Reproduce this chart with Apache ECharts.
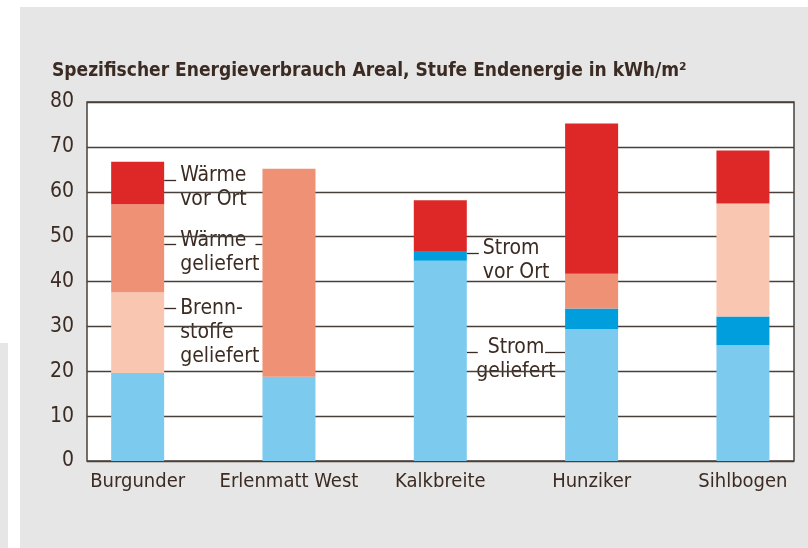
<!DOCTYPE html>
<html>
<head>
<meta charset="utf-8">
<script src="https://cdn.jsdelivr.net/npm/echarts@6/dist/echarts.min.js"></script>
<style>
  html, body { margin: 0; padding: 0; background: #fff; overflow: hidden; }
  #chart { width: 830px; height: 548px; }
</style>
</head>
<body>
<div id="chart"></div>
<script>
// Kategorien und Werte (kWh/m2), von unten nach oben gestapelt
const areale = ['Burgunder', 'Erlenmatt West', 'Kalkbreite', 'Hunziker', 'Sihlbogen']
const stromGeliefert = [19.6, 18.8, 44.6, 29.4, 25.8]
const stromVorOrt = [0, 0, 2.2, 4.6, 6.4]
const brennstoffeGeliefert = [18.0, 0, 0, 0, 25.2]
const waermeGeliefert = [19.6, 46.3, 0, 7.7, 0]
const waermeVorOrt = [9.5, 0, 11.3, 33.5, 11.8]
const yTicks = [0, 10, 20, 30, 40, 50, 60, 70, 80]

const FONT = "'DejaVu Sans Condensed', 'Liberation Sans', sans-serif"
const INK = '#3b2b22'

// Beschriftungen mit Hinweislinien: Kategorie, Höhe der Linie (Wert)
const hinweise = [
  { text: 'Wärme\nvor Ort', cat: 0, value: 62.6, dy: -17 },
  { text: 'Wärme\ngeliefert', cat: 0, value: 48.4, dy: -16, rechts: 1 },
  { text: 'Brenn-\nstoffe\ngeliefert', cat: 0, value: 34.1, dy: -12 },
  { text: 'Strom\nvor Ort', cat: 2, value: 46.3, dy: -17 },
  { text: 'Strom\ngeliefert', cat: 2, value: 24.4, dy: -17, rechts: 3, center: true }
]

const chart = echarts.init(document.getElementById('chart'))

function serie(name, data, color) {
  return {
    name, type: 'bar', stack: 'total', data,
    xAxisIndex: 1, yAxisIndex: 1,
    barWidth: 53,
    itemStyle: { color },
    emphasis: { disabled: true }
  }
}

const grau = [
  { type: 'rect', z: -10, silent: true, shape: { x: 20, y: 7, width: 810, height: 541 }, style: { fill: '#e6e6e6' } },
  { type: 'rect', z: -10, silent: true, shape: { x: 0, y: 343, width: 8, height: 205 }, style: { fill: '#e6e6e6' } }
]

chart.setOption({
  backgroundColor: '#fff',
  animation: false,
  textStyle: { fontFamily: FONT },
  title: {
    text: 'Spezifischer Energieverbrauch Areal, Stufe Endenergie in kWh/m²',
    left: 47, top: 57,
    textStyle: { fontFamily: FONT, fontWeight: 'bold', fontSize: 19, color: INK }
  },
  graphic: grau,
  grid: [
    // Rahmen mit Gitterlinien
    { left: 87, width: 707, top: 102, bottom: 87, show: true, backgroundColor: '#fff', borderColor: '#4a403a', borderWidth: 1.5 },
    // Balken
    { left: 62, width: 756.6, top: 102, bottom: 87 }
  ],
  xAxis: [
    { gridIndex: 0, type: 'value', show: false, min: 0, max: 1 },
    {
      gridIndex: 1, type: 'category', data: areale,
      axisLine: { show: false }, axisTick: { show: false },
      axisLabel: { interval: 0, fontFamily: FONT, fontSize: 20, color: INK, margin: 11 }
    }
  ],
  yAxis: [
    {
      gridIndex: 0, type: 'value', min: yTicks[0], max: yTicks[yTicks.length - 1], interval: 10,
      axisLine: { show: false }, axisTick: { show: false },
      axisLabel: { fontFamily: FONT, fontSize: 21, color: INK, margin: 13 },
      splitLine: { lineStyle: { color: '#4a403a', width: 1.3 } }
    },
    { gridIndex: 1, type: 'value', min: 0, max: 80, show: false }
  ],
  series: [
    serie('Strom geliefert', stromGeliefert, '#7ccbef'),
    serie('Strom vor Ort', stromVorOrt, '#009edc'),
    serie('Brennstoffe geliefert', brennstoffeGeliefert, '#f8c6b1'),
    serie('Wärme geliefert', waermeGeliefert, '#ef9174'),
    serie('Wärme vor Ort', waermeVorOrt, '#de2727')
  ]
})

// Hinweise aus Datenkoordinaten ableiten
const halb = 53 / 2
const extra = []
hinweise.forEach(h => {
  const p = chart.convertToPixel({ xAxisIndex: 1, yAxisIndex: 1 }, [h.cat, h.value])
  const x0 = p[0] + halb
  const y = Math.round(p[1]) + 0.5
  const lineEnd = x0 + (h.center ? 11 : 12)
  extra.push({ type: 'line', silent: true, shape: { x1: x0, y1: y, x2: lineEnd, y2: y }, style: { stroke: INK, lineWidth: 1.3 } })
  let tx = lineEnd + 4
  let align = 'left'
  if (h.center) {
    const q = chart.convertToPixel({ xAxisIndex: 1, yAxisIndex: 1 }, [h.rechts, h.value])
    tx = (x0 + q[0] - halb) / 2
    align = 'center'
  }
  extra.push({
    type: 'text', silent: true, x: tx, y: y + h.dy,
    style: { text: h.text, fill: INK, font: '21px ' + FONT, align, verticalAlign: 'top', lineHeight: 24 }
  })
  if (h.rechts !== undefined) {
    const q = chart.convertToPixel({ xAxisIndex: 1, yAxisIndex: 1 }, [h.rechts, h.value])
    const x2 = q[0] - halb
    const len = h.center ? 20 : 7
    extra.push({ type: 'line', silent: true, shape: { x1: x2 - len, y1: y, x2: x2, y2: y }, style: { stroke: INK, lineWidth: 1.3 } })
  }
})

chart.setOption({ graphic: grau.concat(extra) })
</script>
</body>
</html>
